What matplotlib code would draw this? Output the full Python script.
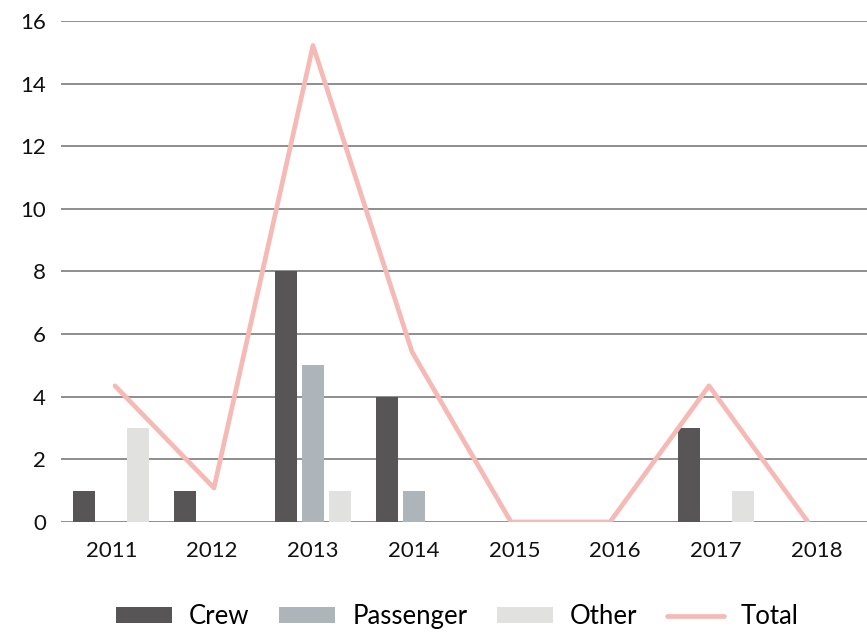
import numpy as np
import matplotlib
matplotlib.use("Agg")
import matplotlib.pyplot as plt

years = ["2011", "2012", "2013", "2014", "2015", "2016", "2017", "2018"]
crew = [1, 1, 8, 4, 0, 0, 3, 0]
passenger = [0, 0, 5, 1, 0, 0, 0, 0]
other = [3, 0, 1, 0, 0, 0, 1, 0]
total = [4, 1, 14, 5, 0, 0, 4, 0]

c_crew = "#575556"
c_pass = "#adb5ba"
c_other = "#e1e1df"
c_total = "#f5bab5"
c_grid = "#8e8e8e"

plt.rcParams["font.family"] = ["Lato", "DejaVu Sans"]
plt.rcParams["font.size"] = 16

fig = plt.figure(figsize=(8.67, 6.33), dpi=100)
pos = [0.0704, 0.1754, 0.9296, 0.7914]
ax = fig.add_axes(pos)

x = np.arange(len(years))
w = 0.218
off = 0.268
ax.bar(x - off, crew, w, color=c_crew, label="Crew", zorder=3)
ax.bar(x, passenger, w, color=c_pass, label="Passenger", zorder=3)
ax.bar(x + off, other, w, color=c_other, label="Other", zorder=3)

ax.set_xlim(-0.5, len(years) - 0.5)
ax.set_ylim(0, 16)
ax.set_yticks(np.arange(0, 17, 2))
ax.set_xticks(x)
ax.set_xticklabels(years)
ax.grid(axis="y", color=c_grid, linewidth=1.4, zorder=0)
ax.set_axisbelow(True)
for s in ax.spines.values():
    s.set_visible(False)
ax.tick_params(axis="both", length=0, colors="#111111")
ax.tick_params(axis="y", pad=11)
ax.tick_params(axis="x", pad=14)

# total line sits on its own (hidden) scale, like the original secondary axis
ax2 = fig.add_axes(pos, frameon=False)
ax2.plot(x, total, color=c_total, linewidth=3.4, solid_capstyle="round", label="Total", zorder=4)
ax2.set_xlim(-0.545, 7.596)
ax2.set_ylim(0, 14.72)
ax2.axis("off")

h1, l1 = ax.get_legend_handles_labels()
h2, l2 = ax2.get_legend_handles_labels()
fig.legend(h1 + h2, l1 + l2, loc="center", bbox_to_anchor=(0.527, 0.026), ncol=4,
           frameon=False, handlelength=2.2, handleheight=0.55, handletextpad=0.65,
           columnspacing=1.15, fontsize=18.5)

fig.savefig("out.png", dpi=100)
